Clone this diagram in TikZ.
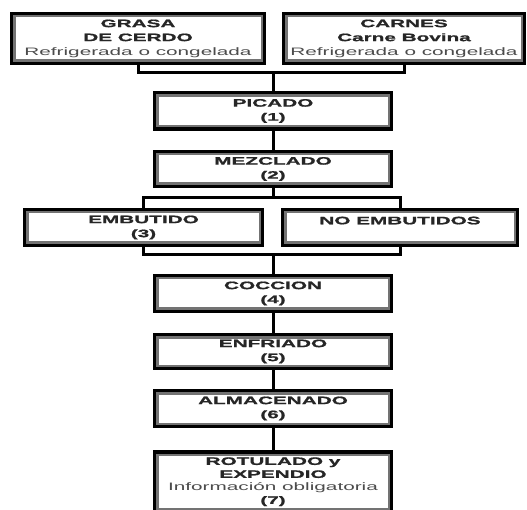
\documentclass[tikz,border=0pt]{standalone}
\usepackage{fontspec}
\setmainfont{Liberation Sans}[FakeStretch=1.92,BoldFeatures={FakeBold=1.2}]
\newcommand{\nota}[1]{{\mdseries\color{black!70}#1}}
\begin{document}
\begin{tikzpicture}[x=1pt,y=-1pt,
    caja/.style={draw=black,line width=3.5pt,fill=white,align=center,inner sep=0pt,
        font=\fontsize{10.8}{14}\selectfont\bfseries,text=black!85,
        path picture={\draw[black!55,line width=8pt] (path picture bounding box.north west)
            rectangle (path picture bounding box.south east);}},
    linea/.style={line width=3pt}]
    \useasboundingbox (0,0) rectangle (527,510);
    \node[caja,minimum width=253pt,minimum height=50pt] (grasa) at (138,38.5)
        {GRASA\\DE CERDO\\\nota{Refrigerada o congelada}};
    \node[caja,minimum width=241pt,minimum height=50pt] (carnes) at (404,38.5)
        {CARNES\\Carne Bovina\\\nota{Refrigerada o congelada}};
    \node[caja,minimum width=237pt,minimum height=36.5pt] (picado) at (273,111) {PICADO\\(1)};
    \node[caja,minimum width=237pt,minimum height=35pt] (mezclado) at (273,169) {MEZCLADO\\(2)};
    \node[caja,minimum width=238pt,minimum height=36pt] (embutido) at (143.5,227.5) {EMBUTIDO\\(3)};
    \node[caja,minimum width=235pt,minimum height=36pt] (noemb) at (400,227.5) {NO EMBUTIDOS\\\mbox{}};
    \node[caja,minimum width=237pt,minimum height=36pt] (coccion) at (273,293.5) {COCCION\\(4)};
    \node[caja,minimum width=237pt,minimum height=34pt] (enfriado) at (273,351.5) {ENFRIADO\\(5)};
    \node[caja,minimum width=237pt,minimum height=36pt] (almacenado) at (273,408.5) {ALMACENADO\\(6)};
    \node[caja,minimum width=237pt,minimum height=60pt,font=\fontsize{10.8}{13}\selectfont\bfseries]
        (rotulado) at (273,481.75) {ROTULADO y\\EXPENDIO\\\nota{Información obligatoria}\\(7)};
    \coordinate (j1) at (273,73);
    \coordinate (j2) at (273,198);
    \coordinate (j3) at (273,255);
    \draw[linea] (grasa.south) |- (j1) -| (carnes.south);
    \draw[linea] (j1) -- (picado.north);
    \draw[linea] (mezclado) -- (j2);
    \draw[linea] (embutido.north) |- (j2) -| (noemb.north);
    \draw[linea] (embutido.south) |- (j3) -| (noemb.south);
    \draw[linea] (j3) -- (coccion.north);
    \foreach \a/\b in {picado/mezclado,coccion/enfriado,enfriado/almacenado,almacenado/rotulado}
        \draw[linea] (\a) -- (\b);
\end{tikzpicture}
\end{document}
